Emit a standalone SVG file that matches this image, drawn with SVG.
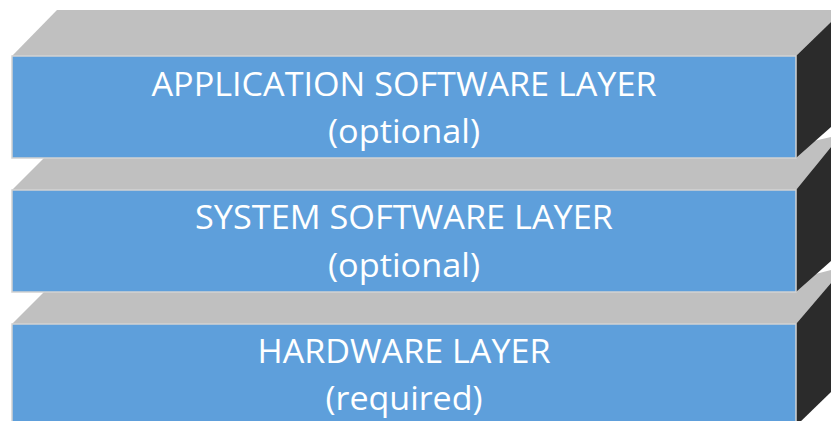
<svg xmlns="http://www.w3.org/2000/svg" width="831" height="421" viewBox="0 0 831 421">
  <style>
    .top { fill: #c0c0c0; }
    .side { fill: #2b2b2b; }
    .front { fill: #5e9fdb; stroke: #d2d2d2; stroke-width: 1.5; }
    .lbl { font-family: "Open Sans", "Liberation Sans", sans-serif; font-size: 32px; fill: #ffffff; text-anchor: middle; }
  </style>
  <rect x="0" y="0" width="831" height="421" fill="#ffffff"/>

  <g id="hardware-layer">
    <polygon class="top" points="12,324 57,279 796,279 831,270 831,283 796,324"/>
    <polygon class="side" points="796,324 831,283 831,392 796,426"/>
    <rect class="front" x="12" y="324" width="784" height="102"/>
    <text class="lbl" x="404" y="363" textLength="293" lengthAdjust="spacingAndGlyphs">HARDWARE LAYER</text>
    <text class="lbl" x="404" y="410" textLength="157" lengthAdjust="spacingAndGlyphs">(required)</text>
  </g>

  <g id="system-software-layer">
    <polygon class="top" points="12,190 57,145 796,145 831,137 831,147 796,190"/>
    <polygon class="side" points="796,190 831,147 831,261 796,292"/>
    <rect class="front" x="12" y="190" width="784" height="102"/>
    <text class="lbl" x="404" y="229" textLength="418" lengthAdjust="spacingAndGlyphs">SYSTEM SOFTWARE LAYER</text>
    <text class="lbl" x="404" y="277" textLength="152" lengthAdjust="spacingAndGlyphs">(optional)</text>
  </g>

  <g id="application-software-layer">
    <polygon class="top" points="12,56 57,10 831,10 831,22 796,56"/>
    <polygon class="side" points="796,56 831,22 831,127 796,158"/>
    <rect class="front" x="12" y="56" width="784" height="102"/>
    <text class="lbl" x="404" y="96" textLength="505" lengthAdjust="spacingAndGlyphs">APPLICATION SOFTWARE LAYER</text>
    <text class="lbl" x="404" y="143" textLength="152" lengthAdjust="spacingAndGlyphs">(optional)</text>
  </g>
</svg>
